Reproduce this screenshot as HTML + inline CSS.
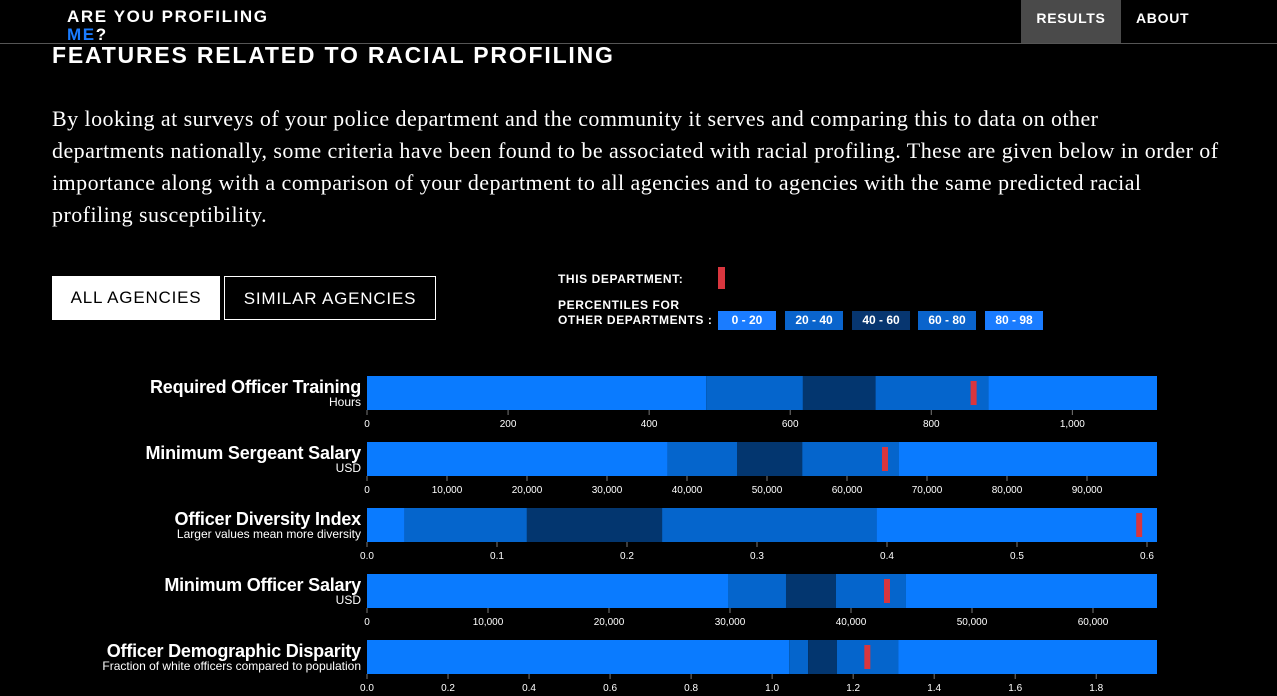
<!DOCTYPE html>
<html><head><meta charset="utf-8">
<style>
html,body{margin:0;padding:0;background:#000;width:1277px;height:696px;overflow:hidden;color:#fff;font-family:"Liberation Sans",sans-serif}
.abs{position:absolute}
.nav{position:absolute;left:0;top:0;width:1277px;height:43px;border-bottom:1px solid #555}
.logo{left:67px;top:8px;font-weight:bold;font-size:17px;letter-spacing:1.6px;line-height:18px}
.navitem{top:0;height:43px;line-height:36px;font-weight:bold;font-size:14px;letter-spacing:0.7px}
h1{position:absolute;left:52px;top:42px;margin:0;font-size:23px;font-weight:bold;letter-spacing:1.8px}
.para{left:52px;top:103px;font-family:"Liberation Serif",serif;font-size:22px;letter-spacing:0.45px;line-height:32px;white-space:nowrap}
.btn{top:276px;height:44px;line-height:44px;text-align:center;font-size:17px;letter-spacing:0.8px;box-sizing:border-box}
.leg{font-size:12px;font-weight:bold;letter-spacing:0.6px}
.lb{top:311px;height:19px;line-height:19px;width:58px;text-align:center;font-size:12px;font-weight:bold;color:#fff}
.lbl{position:absolute;right:916px;text-align:right;white-space:nowrap}
.lbl .t{font-size:18px;font-weight:bold;line-height:18px;letter-spacing:-0.2px}
.lbl .s{font-size:12px;line-height:13px}
</style></head><body>
<div class="nav"></div>
<div class="abs logo">ARE YOU PROFILING<br><span style="color:#1a7cff">ME</span>?</div>
<div class="abs navitem" style="left:1021px;width:100px;background:#4a4a4a;text-align:center">RESULTS</div>
<div class="abs navitem" style="left:1136px">ABOUT</div>
<h1>FEATURES RELATED TO RACIAL PROFILING</h1>
<div class="abs para">By looking at surveys of your police department and the community it serves and comparing this to data on other<br>departments nationally, some criteria have been found to be associated with racial profiling. These are given below in order of<br>importance along with a comparison of your department to all agencies and to agencies with the same predicted racial<br>profiling susceptibility.</div>
<div class="abs btn" style="left:52px;width:168px;background:#fff;color:#000">ALL AGENCIES</div>
<div class="abs btn" style="left:224px;width:212px;border:1px solid #fff;color:#fff">SIMILAR AGENCIES</div>
<div class="abs leg" style="left:558px;top:272px">THIS DEPARTMENT:</div>
<div class="abs" style="left:718px;top:267px;width:7px;height:22px;background:#d9363e"></div>
<div class="abs leg" style="left:558px;top:298px;line-height:15px">PERCENTILES FOR<br>OTHER DEPARTMENTS :</div>
<div class="abs lb" style="left:718px;background:#1a7cff">0 - 20</div>
<div class="abs lb" style="left:785px;background:#0a64cc">20 - 40</div>
<div class="abs lb" style="left:852px;background:#073670">40 - 60</div>
<div class="abs lb" style="left:918px;background:#0a64cc">60 - 80</div>
<div class="abs lb" style="left:985px;background:#1a7cff">80 - 98</div>
<div id="labels"></div>
<svg id="chart" class="abs" style="left:0;top:0" width="1277" height="696"></svg>
<script>
const titles=["Required Officer Training","Minimum Sergeant Salary","Officer Diversity Index","Minimum Officer Salary","Officer Demographic Disparity"];
const subtitles=["Hours","USD","Larger values mean more diversity","USD","Fraction of white officers compared to population"];
const domainMax=[1120,98750,0.6077,65290,1.95];
const p20=[481,37600,0.029,29835,1.042];
const p40=[618,46250,0.123,34628,1.089];
const p60=[721,54400,0.227,38760,1.160];
const p80=[881,66500,0.392,44545,1.311];
const deptValue=[860,64750,0.594,42975,1.235];
const tickStep=[200,10000,0.1,10000,0.2];
const tickDecimals=[0,0,1,0,1];
const NS="http://www.w3.org/2000/svg";
const svg=document.getElementById('chart');
const labels=document.getElementById('labels');
const X0=367,W=790,Y0=376,H=34,GAP=66;
const cols=["#0a7bff","#0565cc","#03366f","#0565cc","#0a7bff"];
function fmt(v,d){return d?v.toFixed(d):Math.round(v).toLocaleString('en-US');}
for(let i=0;i<titles.length;i++){
  const y=Y0+i*GAP;
  const sx=v=>X0+v/domainMax[i]*W;
  const bounds=[0,p20[i],p40[i],p60[i],p80[i],domainMax[i]];
  for(let k=0;k<5;k++){
    const r=document.createElementNS(NS,'rect');
    r.setAttribute('x',sx(bounds[k]));r.setAttribute('y',y);
    r.setAttribute('width',sx(bounds[k+1])-sx(bounds[k]));r.setAttribute('height',H);
    r.setAttribute('fill',cols[k]);
    
    
    svg.appendChild(r);
  }
  const m=document.createElementNS(NS,'rect');
  m.setAttribute('x',sx(deptValue[i])-3);m.setAttribute('y',y+5);
  m.setAttribute('width',6);m.setAttribute('height',24);m.setAttribute('fill','#d9363e');
  
  
  svg.appendChild(m);
  for(let t=0;t<=domainMax[i]+1e-9;t+=tickStep[i]){
    const x=sx(t);
    const ln=document.createElementNS(NS,'line');
    ln.setAttribute('x1',x);ln.setAttribute('x2',x);ln.setAttribute('y1',y+H);ln.setAttribute('y2',y+H+5);
    ln.setAttribute('stroke','#777');
    
    
    svg.appendChild(ln);
    const tx=document.createElementNS(NS,'text');
    tx.setAttribute('x',x);tx.setAttribute('y',y+H+17);tx.setAttribute('fill','#fff');
    tx.setAttribute('font-size','10');tx.setAttribute('text-anchor','middle');
    tx.setAttribute('font-family','Liberation Sans, sans-serif');
    tx.textContent=fmt(t,tickDecimals[i]);
    
    
    svg.appendChild(tx);
  }
  const d=document.createElement('div');
  d.className='lbl';d.style.top=(y+2)+'px';
  d.innerHTML='<div class="t">'+titles[i]+'</div><div class="s">'+subtitles[i]+'</div>';
  
  
  labels.appendChild(d);
}
</script>
</body></html>
